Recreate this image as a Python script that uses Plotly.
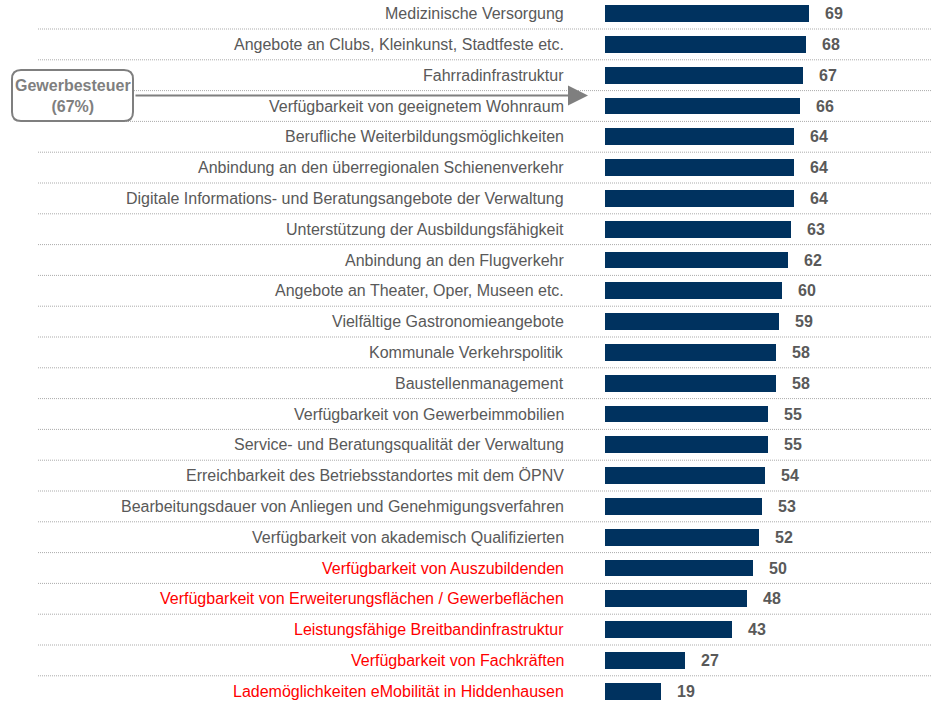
import plotly.graph_objects as go

categories = [
    "Medizinische Versorgung",
    "Angebote an Clubs, Kleinkunst, Stadtfeste etc.",
    "Fahrradinfrastruktur",
    "Verfügbarkeit von geeignetem Wohnraum",
    "Berufliche Weiterbildungsmöglichkeiten",
    "Anbindung an den überregionalen Schienenverkehr",
    "Digitale Informations- und Beratungsangebote der Verwaltung",
    "Unterstützung der Ausbildungsfähigkeit",
    "Anbindung an den Flugverkehr",
    "Angebote an Theater, Oper, Museen etc.",
    "Vielfältige Gastronomieangebote",
    "Kommunale Verkehrspolitik",
    "Baustellenmanagement",
    "Verfügbarkeit von Gewerbeimmobilien",
    "Service- und Beratungsqualität der Verwaltung",
    "Erreichbarkeit des Betriebsstandortes mit dem ÖPNV",
    "Bearbeitungsdauer von Anliegen und Genehmigungsverfahren",
    "Verfügbarkeit von akademisch Qualifizierten",
    "Verfügbarkeit von Auszubildenden",
    "Verfügbarkeit von Erweiterungsflächen / Gewerbeflächen",
    "Leistungsfähige Breitbandinfrastruktur",
    "Verfügbarkeit von Fachkräften",
    "Lademöglichkeiten eMobilität in Hiddenhausen",
]
values = [69, 68, 67, 66, 64, 64, 64, 63, 62, 60, 59, 58, 58, 55, 55, 54, 53, 52, 50, 48, 43, 27, 19]
highlighted = [False] * 18 + [True] * 5
note_lines = ["Gewerbesteuer", "(67%)"]

W, H = 936, 701
X0PX, SCALE = 605, 2.955
ROW0, ROWH = 13.6, 30.8


def px_x(p):
    return (p - X0PX) / SCALE


def px_row(p):
    return (p - ROW0) / ROWH


def pxp_x(p):
    return p / W


def pxp_y(p):
    return 1 - p / H


idx = list(range(len(categories)))
FONT = "Liberation Sans, Arial, sans-serif"
GRAY = "#595959"
NOTE = "#7F7F7F"

fig = go.Figure(go.Bar(
    y=idx, x=values, orientation="h", width=0.55,
    marker=dict(color="#00325F", line=dict(width=0)),
    hoverinfo="skip",
))

shapes = []
for i in range(len(categories) - 1):
    shapes.append(dict(type="line", xref="x", yref="y",
                       x0=px_x(38), x1=px_x(932), y0=i + 0.5, y1=i + 0.5,
                       line=dict(color="#ABABAB", width=1, dash="1px,1px"), layer="below"))

# rounded box
bx0, bx1, by0, by1, r = 12, 133, 70, 121, 9
path = (f"M {pxp_x(bx0 + r)},{pxp_y(by0)} L {pxp_x(bx1 - r)},{pxp_y(by0)} "
        f"Q {pxp_x(bx1)},{pxp_y(by0)} {pxp_x(bx1)},{pxp_y(by0 + r)} "
        f"L {pxp_x(bx1)},{pxp_y(by1 - r)} Q {pxp_x(bx1)},{pxp_y(by1)} {pxp_x(bx1 - r)},{pxp_y(by1)} "
        f"L {pxp_x(bx0 + r)},{pxp_y(by1)} Q {pxp_x(bx0)},{pxp_y(by1)} {pxp_x(bx0)},{pxp_y(by1 - r)} "
        f"L {pxp_x(bx0)},{pxp_y(by0 + r)} Q {pxp_x(bx0)},{pxp_y(by0)} {pxp_x(bx0 + r)},{pxp_y(by0)} Z")
shapes.append(dict(type="path", xref="paper", yref="paper", path=path,
                   line=dict(color=NOTE, width=2), fillcolor="white"))

annotations = []
for i, (c, v, h) in enumerate(zip(categories, values, highlighted)):
    annotations.append(dict(x=px_x(566), y=i, xref="x", yref="y", text=c,
                            xanchor="right", yanchor="middle", showarrow=False,
                            font=dict(family=FONT, size=16, color="#FF0000" if h else GRAY)))
    annotations.append(dict(x=v, y=i, xref="x", yref="y", text=f"<b>{v}</b>",
                            xanchor="left", yanchor="middle", xshift=14, showarrow=False,
                            font=dict(family=FONT, size=16, color=GRAY)))

annotations.append(dict(x=pxp_x((bx0 + bx1) / 2 + 0.5), y=pxp_y((by0 + by1) / 2), xref="paper", yref="paper",
                        text="<br>".join(f"<b>{t}</b>" for t in note_lines), showarrow=False,
                        xanchor="center", yanchor="middle",
                        font=dict(family=FONT, size=16, color=NOTE)))
annotations.append(dict(x=px_x(588), y=px_row(95.5), xref="x", yref="y",
                        ax=px_x(134), ay=px_row(95.5), axref="x", ayref="y",
                        text="", showarrow=True, arrowhead=2, arrowsize=2,
                        arrowwidth=2, arrowcolor=NOTE))

fig.update_layout(
    width=W, height=H, margin=dict(l=0, r=0, t=0, b=0),
    paper_bgcolor="white", plot_bgcolor="white", showlegend=False,
    xaxis=dict(range=[px_x(0), px_x(W)], visible=False, fixedrange=True),
    yaxis=dict(range=[px_row(H), px_row(0)], visible=False, fixedrange=True),
    shapes=shapes, annotations=annotations, bargap=0,
)

fig.write_html("out.html",
               post_script="document.body.style.margin='0';document.body.style.padding='0';document.body.style.overflow='hidden';",
               config={"displayModeBar": False})
